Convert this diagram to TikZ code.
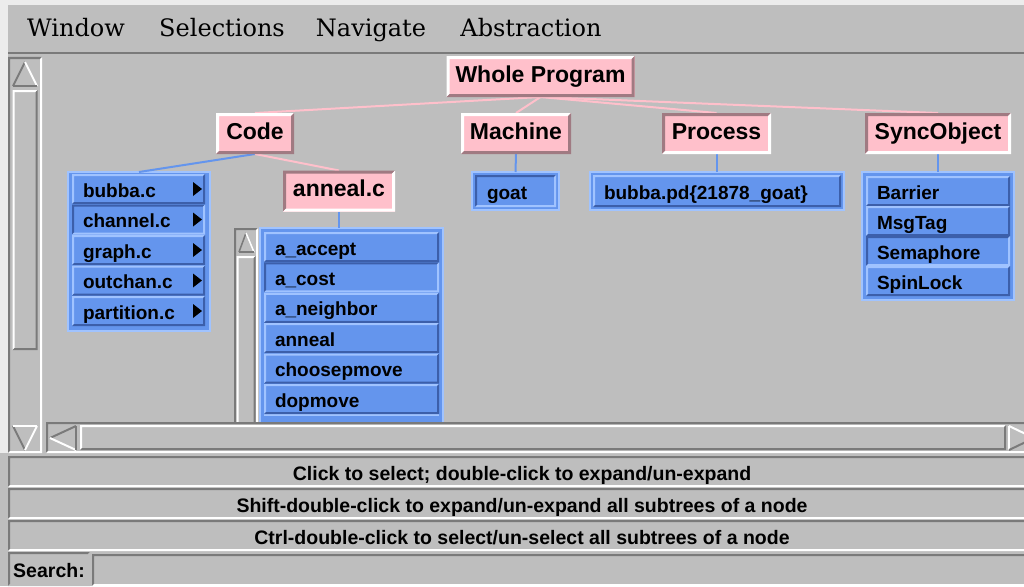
\documentclass[tikz,border=0pt]{standalone}
\usepackage{fontspec}
\newfontfamily\menuserif{DejaVu Serif}
\newfontfamily\uisans{Liberation Sans}

\definecolor{uigray}{RGB}{190,190,190}
\definecolor{uidark}{RGB}{122,122,122}
\definecolor{uilight}{RGB}{236,236,236}
\definecolor{pinkfill}{RGB}{255,192,203}
\definecolor{pinkdark}{RGB}{160,122,130}
\definecolor{itemblue}{RGB}{100,149,237}
\definecolor{bluelight}{RGB}{160,195,255}
\definecolor{bluedark}{RGB}{60,95,170}

\newcommand{\menufont}{\menuserif\fontsize{24pt}{28pt}\selectfont}
\newcommand{\labelfont}{\uisans\bfseries\fontsize{23pt}{27pt}\selectfont}
\newcommand{\itemfont}{\uisans\bfseries\fontsize{19pt}{22pt}\selectfont}
\newcommand{\statusfont}{\uisans\bfseries\fontsize{19.5pt}{22pt}\selectfont}

% 3d edge of a box: node, top-left colour, bottom-right colour, width
\newcommand{\bevel}[4]{%
\fill[#2] (#1.south west) -- (#1.north west) -- (#1.north east)
  -- ([xshift=-#4pt,yshift=-#4pt]#1.north east) -- ([xshift=#4pt,yshift=-#4pt]#1.north west)
  -- ([xshift=#4pt,yshift=#4pt]#1.south west) -- cycle;
\fill[#3] (#1.south west) -- (#1.south east) -- (#1.north east)
  -- ([xshift=-#4pt,yshift=-#4pt]#1.north east) -- ([xshift=-#4pt,yshift=#4pt]#1.south east)
  -- ([xshift=#4pt,yshift=#4pt]#1.south west) -- cycle;
}
% small black arrow of an item with a submenu
\newcommand{\subarrow}[1]{%
\fill[black] ([xshift=-12pt,yshift=7pt]#1.east) -- ([xshift=-12pt,yshift=-7pt]#1.east) -- ([xshift=-3pt]#1.east) -- cycle;
}

\tikzset{
  uipanel/.style={fill=uigray, inner sep=0pt, outer sep=0pt, anchor=north west},
  pinkbox/.style={fill=pinkfill, font=\labelfont, inner sep=0pt, outer sep=0pt, minimum height=41pt, text height=16pt, text depth=5pt},
  itembox/.style={fill=itemblue, font=\itemfont, inner xsep=11pt, inner ysep=0pt, outer sep=0pt, minimum height=30pt, text height=18pt, text depth=2pt, align=left},
  listframe/.style={fill=itemblue, draw=bluelight, line width=1.5pt, inner sep=0pt, outer sep=0pt},
  pinkline/.style={draw=pinkfill, line width=2pt},
  blueline/.style={draw=itemblue, line width=2pt},
  menuitem/.style={font=\menufont, anchor=base, inner sep=0pt},
  statusrow/.style={uipanel, font=\statusfont, minimum width=1028pt, minimum height=31pt, text height=19pt, text depth=2pt},
}

\begin{document}
\begin{tikzpicture}[x=1pt,y=-1pt]
\useasboundingbox (0,0) rectangle (1024,586);

% window
\fill[uigray] (0,0) rectangle (1024,586);
\fill[uilight] (0,0) rectangle (1024,5);
\fill[uilight] (0,0) rectangle (8,453);

% menu bar
\node[menuitem] (mwindow) at (76,37) {Window};
\node[menuitem] (mselect) at (222,37) {Selections};
\node[menuitem] (mnavigate) at (371,37) {Navigate};
\node[menuitem] (mabstract) at (531,37) {Abstraction};
\draw[uidark, line width=2pt] (8,53) -- (1024,53);

% left scroll bar
\node[uipanel, minimum width=34pt, minimum height=396pt] (vtrough) at (8,57) {};
\node[uipanel, minimum width=28pt, minimum height=29pt] (vup) at (11,59) {};
\node[uipanel, minimum width=25pt, minimum height=260pt] (vthumb) at (12.5,90) {};
\node[uipanel, minimum width=28pt, minimum height=28pt] (vdown) at (11,423) {};
\bevel{vtrough}{uidark}{white}{2}
\bevel{vthumb}{white}{uidark}{2}
\draw[uidark, line width=2pt] (13,86) -- (25,62);
\draw[white, line width=2pt] (25,62) -- (37,86);
\draw[uidark, line width=2pt] (13,86) -- (37,86);
\draw[uidark, line width=2pt] (13,426) -- (25,450);
\draw[white, line width=2pt] (25,450) -- (37,426);
\draw[white, line width=2pt] (13,426) -- (37,426);

% tree
\begin{scope}
\clip (44,57) rectangle (1024,421);

\node[pinkbox, minimum width=188pt] (wp) at (540.5,76.5) {Whole Program};
\node[pinkbox, minimum width=78pt] (code) at (255,133.5) {Code};
\node[pinkbox, minimum width=110pt] (machine) at (516,133.5) {Machine};
\node[pinkbox, minimum width=109pt] (process) at (716.5,133.5) {Process};
\node[pinkbox, minimum width=146pt] (sync) at (938,133.5) {SyncObject};
\node[pinkbox, minimum width=112pt] (anneal) at (339,191) {anneal.c};

\node[listframe, minimum width=142pt, minimum height=159pt] (codelist) at (139,251.5) {};
\node[itembox, text width=111pt] (bubba) at (138.5,189) {bubba.c};
\node[itembox, text width=111pt] (channel) at (138.5,219.5) {channel.c};
\node[itembox, text width=111pt] (graph) at (138.5,250) {graph.c};
\node[itembox, text width=111pt] (outchan) at (138.5,280.5) {outchan.c};
\node[itembox, text width=111pt] (partition) at (138.5,311) {partition.c};

\node[uipanel, minimum width=24pt, minimum height=200pt] (atrough) at (234,228) {};
\node[uipanel, minimum width=19pt, minimum height=24pt] (aup) at (236.5,230) {};
\node[uipanel, minimum width=19pt, minimum height=180pt] (athumb) at (236.5,256) {};
\node[listframe, minimum width=183pt, minimum height=212pt] (alist) at (351.5,334) {};
\node[itembox, text width=153pt] (aaccept) at (351.5,247) {a\_accept};
\node[itembox, text width=153pt] (acost) at (351.5,277.4) {a\_cost};
\node[itembox, text width=153pt] (aneighbor) at (351.5,307.8) {a\_neighbor};
\node[itembox, text width=153pt] (aanneal) at (351.5,338.2) {anneal};
\node[itembox, text width=153pt] (choose) at (351.5,368.6) {choosepmove};
\node[itembox, text width=153pt] (dopmove) at (351.5,399) {dopmove};
\fill[itemblue] (264,414.4) rectangle (439,444.4);
\fill[bluelight] (264,414.4) rectangle (439,416.4);

\node[listframe, minimum width=87pt, minimum height=38pt] (goatbox) at (515.5,191) {};
\node[itembox, text width=57pt, inner xsep=12pt, minimum height=32pt] (goat) at (515.5,191) {goat};

\node[listframe, minimum width=254pt, minimum height=38pt] (pdbox) at (717,191) {};
\node[itembox, text width=226pt, minimum height=32pt] (pd) at (717,191) {bubba.pd\{21878\_goat\}};

\node[listframe, minimum width=152pt, minimum height=128pt] (synclist) at (938,236) {};
\node[itembox, text width=122pt] (barrier) at (938,191) {Barrier};
\node[itembox, text width=122pt] (msgtag) at (938,221) {MsgTag};
\node[itembox, text width=122pt] (semaphore) at (938,251) {Semaphore};
\node[itembox, text width=122pt] (spinlock) at (938,281) {SpinLock};

% connectors
\draw[pinkline] (wp.south) -- (code.north);
\draw[pinkline] (wp.south) -- (machine.north);
\draw[pinkline] (wp.south) -- (process.north);
\draw[pinkline] (wp.south) -- (sync.north);
\draw[blueline] (code.south) -- (codelist.north);
\draw[pinkline] (code.south) -- (anneal.north);
\draw[blueline] (anneal.south) -- (anneal.south |- alist.north);
\draw[blueline] (machine.south) -- (goatbox.north);
\draw[blueline] (process.south) -- (process.south |- pdbox.north);
\draw[blueline] (sync.south) -- (synclist.north);

% edges
\bevel{wp}{white}{pinkdark}{3}
\bevel{code}{white}{pinkdark}{3}
\bevel{machine}{white}{pinkdark}{3}
\bevel{process}{pinkdark}{white}{3}
\bevel{sync}{pinkdark}{white}{3}
\bevel{anneal}{pinkdark}{white}{3}

\bevel{bubba}{bluelight}{bluedark}{2}
\bevel{channel}{bluedark}{bluelight}{2}
\bevel{graph}{bluelight}{bluedark}{2}
\bevel{outchan}{bluelight}{bluedark}{2}
\bevel{partition}{bluelight}{bluedark}{2}
\subarrow{bubba}
\subarrow{channel}
\subarrow{graph}
\subarrow{outchan}
\subarrow{partition}

\bevel{atrough}{uidark}{white}{2}
\bevel{athumb}{white}{uidark}{2}
\draw[uidark, line width=1.5pt] (239,252) -- (246,233);
\draw[white, line width=1.5pt] (246,233) -- (254,252);
\draw[uidark, line width=1.5pt] (239,252) -- (254,252);
\bevel{aaccept}{bluelight}{bluedark}{2}
\bevel{acost}{bluedark}{bluelight}{2}
\bevel{aneighbor}{bluelight}{bluedark}{2}
\bevel{aanneal}{bluelight}{bluedark}{2}
\bevel{choose}{bluelight}{bluedark}{2}
\bevel{dopmove}{bluelight}{bluedark}{2}

\bevel{goat}{bluedark}{bluelight}{2}
\bevel{pd}{bluelight}{bluedark}{2}
\bevel{barrier}{bluelight}{bluedark}{2}
\bevel{msgtag}{bluelight}{bluedark}{2}
\bevel{semaphore}{bluedark}{bluelight}{2}
\bevel{spinlock}{bluelight}{bluedark}{2}
\end{scope}

% bottom scroll bar
\node[uipanel, minimum width=990pt, minimum height=31pt] (htrough) at (46,422) {};
\node[uipanel, minimum width=926pt, minimum height=25pt] (hthumb) at (80,425) {};
\bevel{htrough}{uidark}{white}{2}
\bevel{hthumb}{white}{uidark}{2}
\draw[uidark, line width=2pt] (50,438) -- (76,426);
\draw[white, line width=2pt] (50,438) -- (76,450);
\draw[uidark, line width=2pt] (76,426) -- (76,450);
\draw[white, line width=2pt] (1009,426) -- (1009,450);
\draw[white, line width=2pt] (1009,426) -- (1034,438);
\draw[uidark, line width=2pt] (1009,450) -- (1034,438);

% help lines and search
\node[statusrow] (help1) at (8,456) {Click to select; double-click to expand/un-expand};
\node[statusrow] (help2) at (8,488) {Shift-double-click to expand/un-expand all subtrees of a node};
\node[statusrow] (help3) at (8,520) {Ctrl-double-click to select/un-select all subtrees of a node};
\node[statusrow, minimum width=82pt, minimum height=34pt] (searchlabel) at (8,552) {Search:};
\node[uipanel, minimum width=940pt, minimum height=32pt] (searchfield) at (92,554) {};
\bevel{help1}{uidark}{white}{2}
\bevel{help2}{uidark}{white}{2}
\bevel{help3}{uidark}{white}{2}
\bevel{searchlabel}{uidark}{uigray}{2}
\bevel{searchfield}{uidark}{white}{2}

\end{tikzpicture}
\end{document}
